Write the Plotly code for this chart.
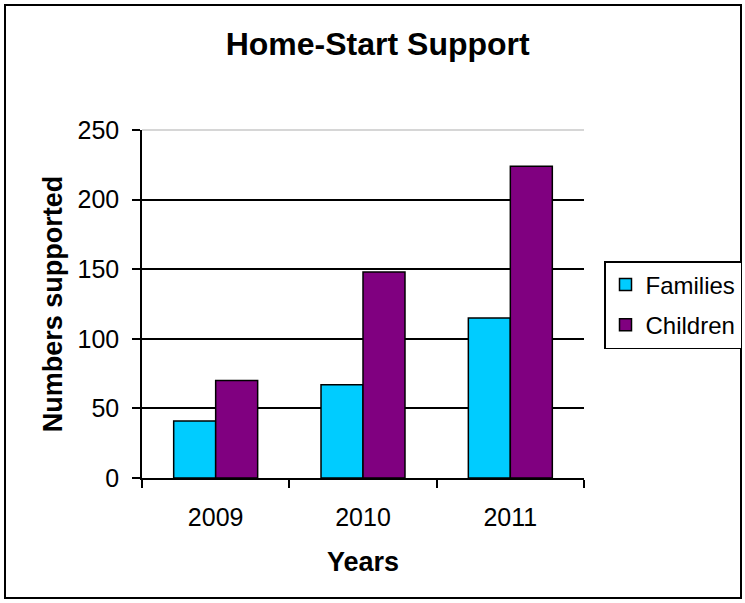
import plotly.graph_objects as go

years = ["2009", "2010", "2011"]
families = [41, 67, 115]
children = [70, 148, 224]
y_ticks = [0, 50, 100, 150, 200, 250]

FONT = "Liberation Sans, Arial, sans-serif"

fig = go.Figure()
fig.add_trace(go.Bar(name="Families", x=years, y=families,
                     marker=dict(color="#00CCFF", line=dict(color="black", width=1.5)),
                     legendgroup="f"))
fig.add_trace(go.Bar(name="Children", x=years, y=children,
                     marker=dict(color="#800080", line=dict(color="black", width=1.5)),
                     legendgroup="c"))

fig.update_layout(
    width=745, height=603, autosize=False,
    margin=dict(l=142, r=161, t=130, b=125, pad=0, autoexpand=False),
    paper_bgcolor="white", plot_bgcolor="white",
    font=dict(family=FONT, size=25, color="black"),
    barmode="group", bargap=0.43, bargroupgap=0,
    title=dict(text="<b>Home-Start Support</b>", font=dict(size=32, family=FONT),
               xref="container", x=0.507, xanchor="center",
               yref="container", y=1 - 44 / 603, yanchor="middle"),
    legend=dict(xref="container", yref="container",
                x=604 / 745, y=(603 - 261) / 603, xanchor="left", yanchor="top",
                bordercolor="black", borderwidth=1.5, bgcolor="white",
                font=dict(size=24, family=FONT), tracegroupgap=6,
                itemwidth=30),
    showlegend=True,
)

fig.update_xaxes(
    type="category", showline=True, linecolor="black", linewidth=1.5,
    ticks="outside", tickson="boundaries", ticklen=8, tickwidth=1.5, tickcolor="black",
    ticklabelstandoff=16, showgrid=False,
    title=dict(text="<b>Years</b>", font=dict(size=27, family=FONT), standoff=22),
)
fig.update_yaxes(
    range=[0, 250], tickvals=y_ticks, showline=True, linecolor="black", linewidth=1.5,
    ticks="outside", ticklen=8, tickwidth=1.5, tickcolor="black",
    ticklabelstandoff=8,
    showgrid=True, gridcolor="black", gridwidth=1.5, zeroline=False,
    title=dict(text="<b>Numbers supported</b>", font=dict(size=27, family=FONT), standoff=7),
)

# light top gridline of plot area
fig.add_shape(type="line", xref="x domain", yref="y domain", x0=0, x1=1, y0=1, y1=1,
              line=dict(color="#c8c8c8", width=1.5), layer="above")
# outer chart border
fig.add_shape(type="rect", xref="paper", yref="paper",
              x0=(5 - 142) / 442, x1=(741 - 142) / 442,
              y0=(478 - 598) / 348, y1=(478 - 5) / 348,
              line=dict(color="black", width=2), fillcolor="rgba(0,0,0,0)")

fig.write_html(
    "out.html",
    config={"responsive": False, "displayModeBar": False},
    post_script=(
        "document.documentElement.style.overflow='hidden';"
        "document.body.style.margin='0px';document.body.style.padding='0px';"
        "document.body.style.overflow='hidden';"
    ),
)
